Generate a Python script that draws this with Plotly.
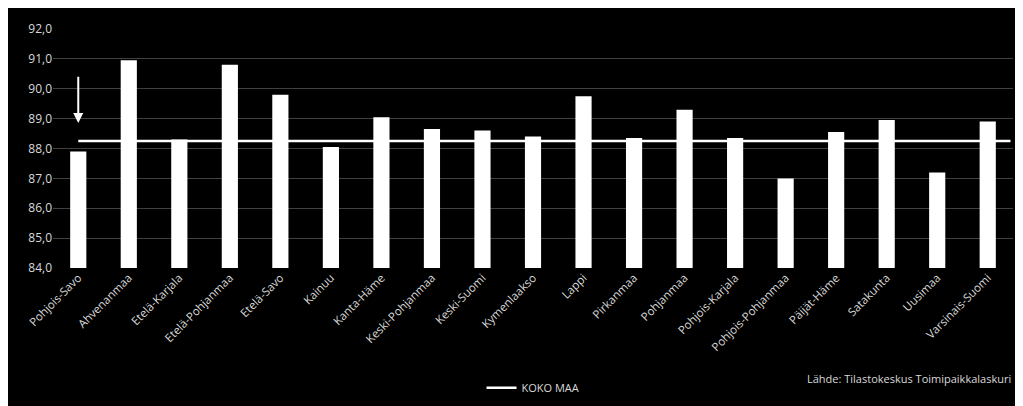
import plotly.graph_objects as go

regions = ["Pohjois-Savo","Ahvenanmaa","Etelä-Karjala","Etelä-Pohjanmaa","Etelä-Savo","Kainuu",
           "Kanta-Häme","Keski-Pohjanmaa","Keski-Suomi","Kymenlaakso","Lappi","Pirkanmaa",
           "Pohjanmaa","Pohjois-Karjala","Pohjois-Pohjanmaa","Päijät-Häme","Satakunta","Uusimaa","Varsinais-Suomi"]
values = [87.9,90.95,88.3,90.8,89.8,88.05,89.05,88.65,88.6,88.4,89.75,88.35,89.3,88.35,87.0,88.55,88.95,87.2,88.9]
koko_maa = 88.25
y_ticks = [84,85,86,87,88,89,90,91,92]
y_ticktext = ["84,0","85,0","86,0","87,0","88,0","89,0","90,0","91,0","92,0"]

xs = list(range(len(regions)))
txt = "#d9d9d9"
fig = go.Figure()
fig.add_trace(go.Bar(x=xs, y=values, width=0.32, marker=dict(color="white", line=dict(width=0)),
                     showlegend=False))
fig.add_trace(go.Scatter(x=[xs[0], xs[-1]+0.45], y=[koko_maa, koko_maa], mode="lines",
                         line=dict(color="white", width=2.5), name="KOKO MAA"))
fig.add_annotation(x=xs[0], y=88.85, ax=xs[0], ay=90.45, axref="x", ayref="y", xref="x", yref="y",
                   showarrow=True, arrowhead=2, arrowsize=1, arrowwidth=2, arrowcolor="white", text="")
fig.add_annotation(text="Lähde: Tilastokeskus Toimipaikkalaskuri", xref="paper", yref="paper",
                   x=1.0, y=-0.5, xanchor="right", showarrow=False, font=dict(size=11, color=txt))
fig.update_layout(
    width=1023, height=406, paper_bgcolor="black", plot_bgcolor="black",
    margin=dict(l=45, r=18, t=14, b=134),
    font=dict(family="Open Sans", color=txt, size=12),
    xaxis=dict(tickvals=xs, ticktext=regions, tickangle=-45, range=[-0.5, 18.5], showgrid=False,
               zeroline=False, tickfont=dict(size=11.5, color=txt)),
    yaxis=dict(range=[84, 92], tickvals=y_ticks, ticktext=y_ticktext, showgrid=True,
               gridcolor="#404040", gridwidth=1, zeroline=False, tickfont=dict(size=12, color=txt)),
    legend=dict(orientation="h", x=0.5, xanchor="center", y=-0.44, yanchor="top",
                font=dict(size=11, color=txt), bgcolor="rgba(0,0,0,0)"),
    bargap=0.6,
)
fig.write_html("out.html")
